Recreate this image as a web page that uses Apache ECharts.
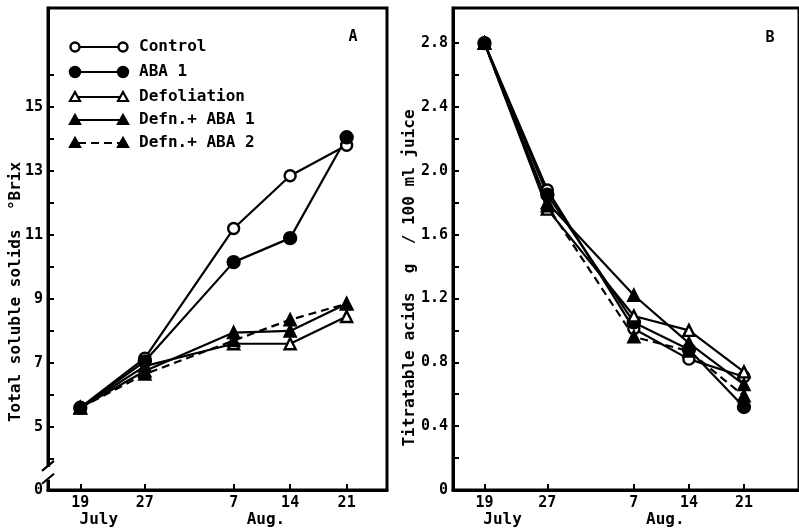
<!DOCTYPE html>
<html>
<head>
<meta charset="utf-8">
<script src="https://cdn.jsdelivr.net/npm/echarts@6/dist/echarts.min.js"></script>
<style>
  html, body { margin: 0; padding: 0; background: #fff; }
  #chart { width: 799px; height: 531px; }
</style>
</head>
<body>
<div id="chart"></div>
<script>
// Sampling dates, counted in days from 19 July
const sampleDays = [0, 8, 19, 26, 33];
const dayLabels = ['19', '27', '7', '14', '21'];
const monthNames = ['July', 'Aug.'];
const monthDays = [2.3, 23];

const seriesNames = ['Control', 'ABA 1', 'Defoliation', 'Defn.+ ABA 1', 'Defn.+ ABA 2'];

// Panel A: total soluble solids, °Brix
const brixControl  = [5.6, 7.15, 11.2, 12.85, 13.8];
const brixAba1     = [5.6, 7.05, 10.15, 10.9, 14.05];
const brixDefol    = [5.6, 6.9, 7.6, 7.6, 8.45];
const brixDefnAba1 = [5.6, 6.75, 7.95, 8.0, 8.85];
const brixDefnAba2 = [5.6, 6.65, 7.7, 8.35, 8.85];

// Panel B: titratable acids, g / 100 ml juice
const acidControl  = [2.8, 1.88, 1.01, 0.82, 0.71];
const acidAba1     = [2.8, 1.85, 1.05, 0.88, 0.52];
const acidDefol    = [2.8, 1.76, 1.09, 1.0, 0.74];
const acidDefnAba1 = [2.8, 1.80, 1.22, 0.92, 0.66];
const acidDefnAba2 = [2.8, 1.78, 0.96, 0.87, 0.59];

// Axis ticks and labels (the Brix axis is broken: its foot is labelled 0)
const brixFoot   = 3.03;
const brixTicks  = [4, 5, 6, 7, 8, 9, 10, 11, 12, 13, 14, 15, 16];
const brixLabels = [brixFoot, 5, 7, 9, 11, 13, 15];
const acidTicks  = [0, 0.2, 0.4, 0.6, 0.8, 1.0, 1.2, 1.4, 1.6, 1.8, 2.0, 2.2, 2.4, 2.6, 2.8];
const acidLabels = [0, 0.4, 0.8, 1.2, 1.6, 2.0, 2.4, 2.8];

const brixSets = [brixControl, brixAba1, brixDefol, brixDefnAba1, brixDefnAba2];
const acidSets = [acidControl, acidAba1, acidDefol, acidDefnAba1, acidDefnAba2];

// Marker and line look of each treatment
const looks = [
  { symbol: 'circle',   fill: '#fff', size: 11, dash: 'solid' },
  { symbol: 'circle',   fill: '#000', size: 12, dash: 'solid' },
  { symbol: 'triangle', fill: '#fff', size: 11, dash: 'solid' },
  { symbol: 'triangle', fill: '#000', size: 11, dash: 'solid' },
  { symbol: 'triangle', fill: '#000', size: 11, dash: [8, 5] }
];

const FONT = 'DejaVu Sans Mono';
const INK = '#000';
const labelStyle = { color: INK, fontFamily: FONT, fontSize: 15, fontWeight: 'bold' };

function xAxisFor(gridIndex, max) {
  return {
    type: 'value', gridIndex: gridIndex, min: -4, max: max,
    axisLine: { show: true, onZero: false, lineStyle: { color: INK, width: 3 } },
    axisTick: { show: true, inside: true, length: 6, customValues: sampleDays,
                lineStyle: { color: INK, width: 2 } },
    axisLabel: Object.assign({ customValues: sampleDays, margin: 6,
      formatter: v => dayLabels[sampleDays.indexOf(v)] }, labelStyle),
    splitLine: { show: false }
  };
}

function seriesFor(sets, axisIndex) {
  return sets.map((vals, i) => ({
    type: 'line',
    name: seriesNames[i],
    xAxisIndex: axisIndex, yAxisIndex: axisIndex,
    data: sampleDays.map((d, k) => [d, vals[k]]),
    symbol: looks[i].symbol,
    symbolSize: looks[i].size,
    showAllSymbol: true,
    lineStyle: { color: INK, width: 2.2, type: looks[i].dash },
    itemStyle: { color: looks[i].fill, borderColor: INK, borderWidth: 2.4 },
    emphasis: { disabled: true },
    animation: false,
    z: 3
  }));
}

const chart = echarts.init(document.getElementById('chart'), null, { renderer: 'canvas' });

chart.setOption({
  backgroundColor: '#fff',
  animation: false,
  grid: [
    { left: 48, top: 8, width: 339, height: 482, show: true, borderColor: INK, borderWidth: 3 },
    { left: 453, top: 8, width: 352, height: 482, show: true, borderColor: INK, borderWidth: 3 }
  ],
  xAxis: [xAxisFor(0, 38), xAxisFor(1, 40)],
  yAxis: [
    {
      type: 'value', gridIndex: 0, min: brixFoot, max: 18.09,
      axisLine: { show: true, onZero: false, lineStyle: { color: INK, width: 3 } },
      axisTick: { show: true, inside: true, length: 6, customValues: brixTicks,
                  lineStyle: { color: INK, width: 2 } },
      axisLabel: Object.assign({ customValues: brixLabels, margin: 5,
        formatter: v => (v === brixFoot ? '0' : String(v)) }, labelStyle),
      splitLine: { show: false }
    },
    {
      type: 'value', gridIndex: 1, min: 0, max: 3.02,
      axisLine: { show: true, onZero: false, lineStyle: { color: INK, width: 3 } },
      axisTick: { show: true, inside: true, length: 6, customValues: acidTicks,
                  lineStyle: { color: INK, width: 2 } },
      axisLabel: Object.assign({ customValues: acidLabels, margin: 5,
        formatter: v => (v === 0 ? '0' : v.toFixed(1)) }, labelStyle),
      splitLine: { show: false }
    }
  ],
  series: seriesFor(brixSets, 0).concat(seriesFor(acidSets, 1))
});

// Decorations: legend, panel letters, axis titles, month names, axis break
const g = [];
const textFont = { fontFamily: FONT, fontSize: 16, fontWeight: 'bold', fill: INK };

function marker(look, cx, cy) {
  if (look.symbol === 'circle') {
    return { type: 'circle', shape: { cx: cx, cy: cy, r: look.size / 2 - 1 },
             style: { fill: look.fill, stroke: INK, lineWidth: 2.4 }, z: 10 };
  }
  const h = look.size - 1;
  return { type: 'polygon',
           shape: { points: [[cx, cy - h / 2], [cx + h / 2, cy + h / 2 - 1], [cx - h / 2, cy + h / 2 - 1]] },
           style: { fill: look.fill, stroke: INK, lineWidth: 2.2 }, z: 10 };
}

const legendRows = [47, 72, 97, 120, 143];
seriesNames.forEach((name, i) => {
  const y = legendRows[i];
  g.push({ type: 'line', shape: { x1: 78, y1: y, x2: 120, y2: y },
           style: { stroke: INK, lineWidth: 2.2, lineDash: looks[i].dash === 'solid' ? null : looks[i].dash }, z: 9 });
  g.push(marker(looks[i], 75, y));
  g.push(marker(looks[i], 123, y));
  g.push({ type: 'text', x: 139, y: y,
           style: Object.assign({ text: name, verticalAlign: 'middle', align: 'left' }, textFont), z: 10 });
});

g.push({ type: 'text', x: 353, y: 37, style: Object.assign({ text: 'A', align: 'center', verticalAlign: 'middle' }, textFont, { fontSize: 15 }) });
g.push({ type: 'text', x: 770, y: 38, style: Object.assign({ text: 'B', align: 'center', verticalAlign: 'middle' }, textFont, { fontSize: 15 }) });

g.push({ type: 'text', x: 16, y: 292, rotation: Math.PI / 2,
         style: Object.assign({ text: 'Total soluble solids  °Brix', align: 'center', verticalAlign: 'middle' }, textFont) });
g.push({ type: 'text', x: 410, y: 278, rotation: Math.PI / 2,
         style: Object.assign({ text: 'Titratable acids  g  / 100 ml juice', align: 'center', verticalAlign: 'middle' }, textFont) });

[0, 1].forEach(gi => {
  monthNames.forEach((m, k) => {
    const p = chart.convertToPixel({ gridIndex: gi }, [monthDays[k], 5]);
    g.push({ type: 'text', x: p[0], y: 520,
             style: Object.assign({ text: m, align: 'center', verticalAlign: 'middle' }, textFont) });
  });
});

// Break in the Brix axis between the 0 and the scale from 4 upwards
const b0 = chart.convertToPixel({ gridIndex: 0 }, [-4, 3.35]);
const b1 = chart.convertToPixel({ gridIndex: 0 }, [-4, 3.75]);
g.push({ type: 'rect', shape: { x: b0[0] - 3, y: b1[1], width: 6, height: b0[1] - b1[1] },
         style: { fill: '#fff' }, z: 20 });
g.push({ type: 'line', shape: { x1: b0[0] - 6, y1: b0[1] + 4, x2: b0[0] + 6, y2: b0[1] - 6 },
         style: { stroke: INK, lineWidth: 2.2 }, z: 21 });
g.push({ type: 'line', shape: { x1: b1[0] - 6, y1: b1[1] + 4, x2: b1[0] + 6, y2: b1[1] - 6 },
         style: { stroke: INK, lineWidth: 2.2 }, z: 21 });

chart.setOption({ graphic: g });
</script>
</body>
</html>
